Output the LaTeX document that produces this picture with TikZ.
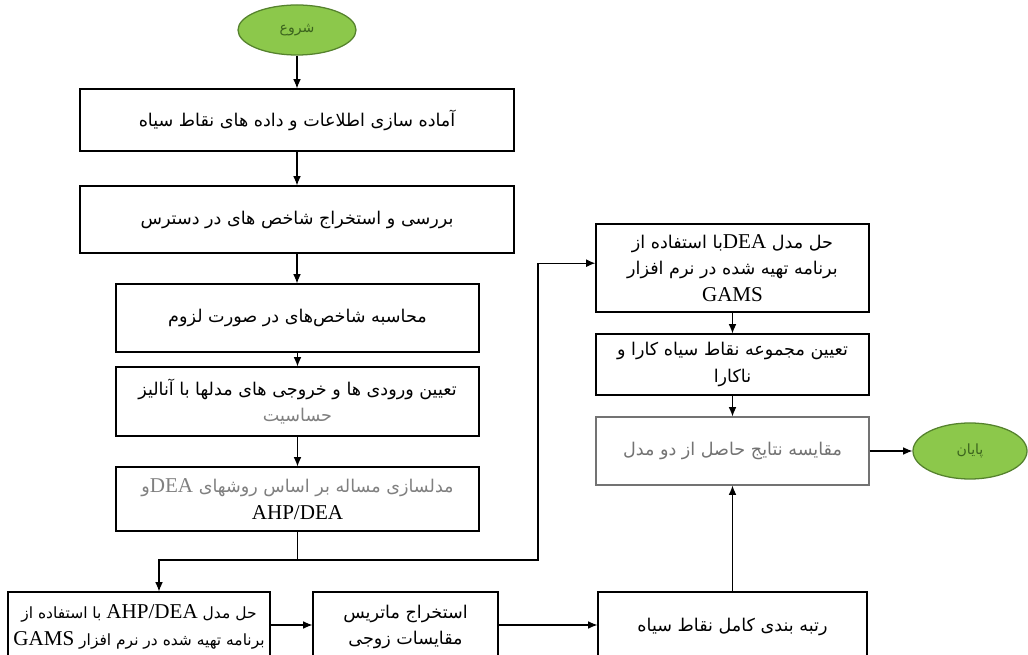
\documentclass[tikz,border=0pt]{standalone}
\usepackage{fontspec}
\setmainfont{Liberation Serif}
\newfontfamily\arabicfont[Script=Arabic]{DejaVu Sans}
\TeXXeTstate=1
\usetikzlibrary{shapes.geometric,arrows.meta}

\definecolor{termfill}{RGB}{140,200,75}
\definecolor{termedge}{RGB}{85,130,45}
\definecolor{termtext}{RGB}{60,100,30}

\newcommand{\fa}[1]{\beginR#1\endR}
\newcommand{\en}[1]{\beginL{\rmfamily\fontsize{15}{17}\selectfont #1}\endL}

\tikzset{
  procbox/.style={draw, line width=0.9pt, fill=white, align=center, inner sep=0pt,
    font=\arabicfont\fontsize{12.5}{19}\selectfont},
  termnode/.style={ellipse, draw=termedge, fill=termfill, line width=0.9pt, inner sep=0pt,
    text=termtext, font=\arabicfont\fontsize{10}{12}\selectfont},
  arr/.style={-{Latex[length=6.5pt,width=5.5pt]}, line width=0.8pt},
}

\begin{document}
\begin{tikzpicture}[x=0.025cm, y=-0.025cm]
    \useasboundingbox (0,0) rectangle (1028,655);

    % Left column
    \node[termnode, minimum width=2.95cm, minimum height=1.25cm] (start) at (297,30) {\fa{شروع}};
    \node[procbox, minimum width=10.85cm, minimum height=1.55cm] (prep) at (297,120)
      {\fa{آماده سازی اطلاعات و داده های نقاط سیاه}};
    \node[procbox, minimum width=10.85cm, minimum height=1.675cm] (review) at (297,219.5)
      {\fa{بررسی و استخراج شاخص های در دسترس}};
    \node[procbox, minimum width=9.075cm, minimum height=1.7cm] (calc) at (297.5,318)
      {\fa{محاسبه شاخص‌های در صورت لزوم}};
    \node[procbox, minimum width=9.075cm, minimum height=1.725cm] (inout) at (297.5,401.5)
      {\fa{تعیین ورودی ها و خروجی های مدلها با آنالیز}\\ \textcolor{gray}{\fa{حساسیت}}};
    \node[procbox, minimum width=9.075cm, minimum height=1.6cm] (model) at (297.5,499)
      {\textcolor{gray}{\fa{مدلسازی مساله بر اساس روشهای \en{DEA}و}}\\ \en{AHP/DEA}};

    % Right column
    \node[procbox, minimum width=6.825cm, minimum height=2.2cm] (solvedea) at (732.5,268)
      {\fa{حل مدل \en{DEA}با استفاده از}\\ \fa{برنامه تهیه شده در نرم افزار}\\ \en{GAMS}};
    \node[procbox, minimum width=6.825cm, minimum height=1.525cm] (effset) at (732.5,364.5)
      {\fa{تعیین مجموعه نقاط سیاه کارا و}\\ \fa{ناکارا}};
    \node[procbox, draw=black!55, text=black!55, minimum width=6.825cm, minimum height=1.7cm] (compare) at (732.5,451)
      {\fa{مقایسه نتایج حاصل از دو مدل}};
    \node[termnode, minimum width=2.85cm, minimum height=1.4cm] (finish) at (970,451) {\fa{پایان}};

    % Bottom row
    \node[procbox, font=\arabicfont\fontsize{11}{19}\selectfont, minimum width=6.55cm, minimum height=1.75cm] (solveahp) at (139,627)
      {\fa{حل مدل {\fontsize{11}{19}\selectfont\en{AHP/DEA}} با استفاده از}\\ \fa{برنامه تهیه شده در نرم افزار \en{GAMS}}};
    \node[procbox, minimum width=4.625cm, minimum height=1.75cm] (pairwise) at (405.5,627)
      {\fa{استخراج ماتریس}\\ \fa{مقایسات زوجی}};
    \node[procbox, minimum width=6.725cm, minimum height=1.75cm] (rank) at (732.5,627)
      {\fa{رتبه بندی کامل نقاط سیاه}};

    % Connectors
    \draw[arr] (start.south) -- (start.south |- prep.north);
    \draw[arr] (prep) -- (review);
    \draw[arr] (review.south) -- (review.south |- calc.north);
    \draw[arr] (calc) -- (inout);
    \draw[arr] (inout) -- (model);

    \coordinate (split) at (297.5,560);
    \coordinate (turn) at (538,560);
    \draw[arr] (model.south) -- (split) -| ([xshift=0.5cm]solveahp.north);
    \draw[arr] (split) -- (turn) |- ([yshift=0.12cm]solvedea.west);

    \draw[arr] (solvedea) -- (effset);
    \draw[arr] (effset) -- (compare);
    \draw[arr] (compare) -- (finish);

    \draw[arr] ([yshift=0.05cm]solveahp.east) -- ([yshift=0.05cm]pairwise.west);
    \draw[arr] ([yshift=0.05cm]pairwise.east) -- ([yshift=0.05cm]rank.west);
    \draw[arr] (rank) -- (compare);

  \end{tikzpicture}
\end{document}
